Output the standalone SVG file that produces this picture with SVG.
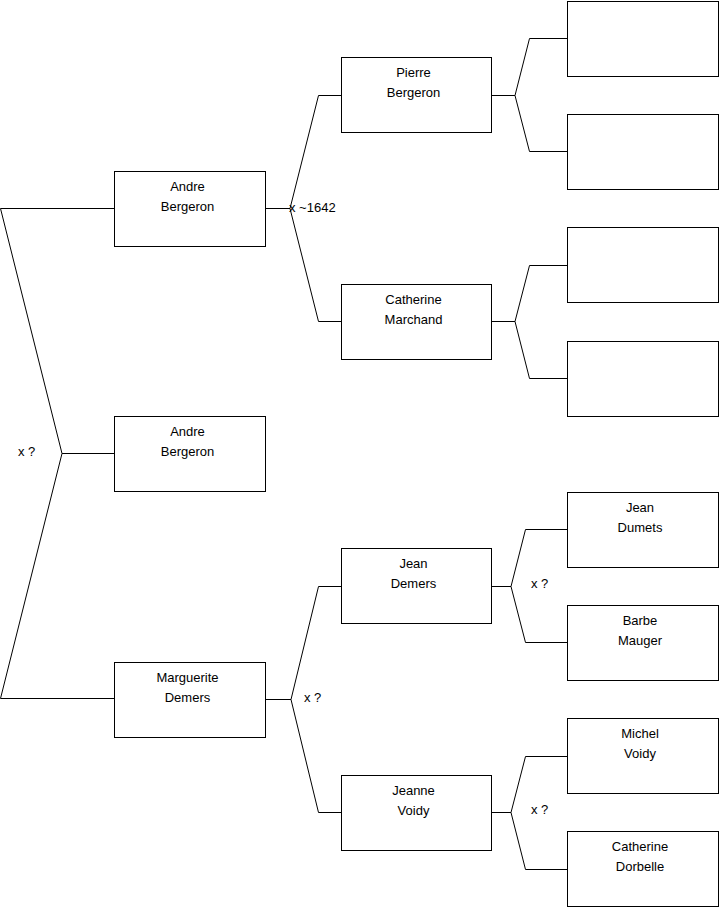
<svg xmlns="http://www.w3.org/2000/svg" width="719" height="908" viewBox="0 0 719 908">
<style>
.box{fill:#fff;stroke:#000;stroke-width:1}
.ln{fill:none;stroke:#000;stroke-width:1}
text{font-family:"Liberation Sans",Arial,sans-serif;font-size:13px;fill:#000}
.c{text-anchor:middle}
</style>
<rect width="719" height="908" fill="#fff"/>
<g id="connectors">
<path class="ln" d="M0.5,208.5H114.5M0.5,208.5L62,453.5L0.5,698.5H114.5M62,453.5H114.5"/>
<path class="ln" d="M265.5,208.5H290M318.5,95.5L290,208.5L318.5,321.5M318.5,95.5H341.5M318.5,321.5H341.5"/>
<path class="ln" d="M265.5,699.5H291M318.5,586.5L291,699.5L318.5,812.5M318.5,586.5H341.5M318.5,812.5H341.5"/>
<path class="ln" d="M491.5,95.5H515M529.5,38.5L515,95.5L529.5,151.5M529.5,38.5H567.5M529.5,151.5H567.5"/>
<path class="ln" d="M491.5,321.5H515M529.5,265.5L515,321.5L529.5,378.5M529.5,265.5H567.5M529.5,378.5H567.5"/>
<path class="ln" d="M491.5,586.5H511M525.5,529.5L511,586.5L525.5,642.5M525.5,529.5H567.5M525.5,642.5H567.5"/>
<path class="ln" d="M491.5,812.5H511M525.5,756.5L511,812.5L525.5,869.5M525.5,756.5H567.5M525.5,869.5H567.5"/>
<text x="289" y="212">x ~1642</text>
<text x="18" y="456">x ?</text>
<text x="304" y="702">x ?</text>
<text x="531" y="588">x ?</text>
<text x="531" y="814">x ?</text>
</g>
<g id="andre1"><rect class="box" x="114.5" y="171.5" width="151" height="75"/><text class="c" x="187.5" y="191">Andre</text><text class="c" x="187.5" y="211">Bergeron</text></g>
<g id="andre2"><rect class="box" x="114.5" y="416.5" width="151" height="75"/><text class="c" x="187.5" y="436">Andre</text><text class="c" x="187.5" y="456">Bergeron</text></g>
<g id="marguerite"><rect class="box" x="114.5" y="662.5" width="151" height="75"/><text class="c" x="187.5" y="682">Marguerite</text><text class="c" x="187.5" y="702">Demers</text></g>
<g id="pierre"><rect class="box" x="341.5" y="57.5" width="150" height="75"/><text class="c" x="413.5" y="77">Pierre</text><text class="c" x="413.5" y="97">Bergeron</text></g>
<g id="catherineM"><rect class="box" x="341.5" y="284.5" width="150" height="75"/><text class="c" x="413.5" y="304">Catherine</text><text class="c" x="413.5" y="324">Marchand</text></g>
<g id="jeanD"><rect class="box" x="341.5" y="548.5" width="150" height="75"/><text class="c" x="413.5" y="568">Jean</text><text class="c" x="413.5" y="588">Demers</text></g>
<g id="jeanneV"><rect class="box" x="341.5" y="775.5" width="150" height="75"/><text class="c" x="413.5" y="795">Jeanne</text><text class="c" x="413.5" y="815">Voidy</text></g>
<g id="empty1"><rect class="box" x="567.5" y="1.5" width="151" height="75"/></g>
<g id="empty2"><rect class="box" x="567.5" y="114.5" width="151" height="75"/></g>
<g id="empty3"><rect class="box" x="567.5" y="227.5" width="151" height="75"/></g>
<g id="empty4"><rect class="box" x="567.5" y="341.5" width="151" height="75"/></g>
<g id="jeanDumets"><rect class="box" x="567.5" y="492.5" width="151" height="75"/><text class="c" x="640" y="512">Jean</text><text class="c" x="640" y="532">Dumets</text></g>
<g id="barbe"><rect class="box" x="567.5" y="605.5" width="151" height="75"/><text class="c" x="640" y="625">Barbe</text><text class="c" x="640" y="645">Mauger</text></g>
<g id="michel"><rect class="box" x="567.5" y="718.5" width="151" height="75"/><text class="c" x="640" y="738">Michel</text><text class="c" x="640" y="758">Voidy</text></g>
<g id="catherineD"><rect class="box" x="567.5" y="831.5" width="151" height="75"/><text class="c" x="640" y="851">Catherine</text><text class="c" x="640" y="871">Dorbelle</text></g>
</svg>
